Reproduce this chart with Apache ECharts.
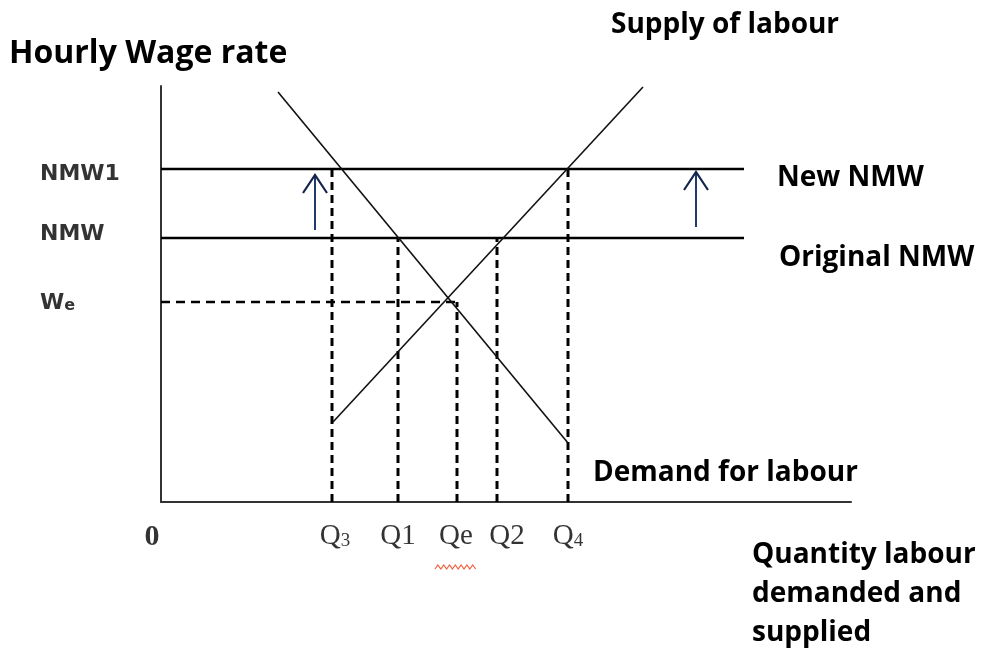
<!DOCTYPE html>
<html>
<head>
<meta charset="utf-8">
<script src="https://cdn.jsdelivr.net/npm/echarts@6/dist/echarts.min.js"></script>
<style>html,body{margin:0;padding:0;background:#fff}#c{width:988px;height:655px}</style>
</head>
<body>
<div id="c"></div>
<script>
// ---- data ----
const qLabels = ['Q3', 'Q1', 'Qe', 'Q2', 'Q4'];
const qValues = [34.2, 47.4, 59.2, 67.2, 81.4];
const qTop = [83.25, 66, 50, 66, 83.25];
const wageLabels = ['NMW1', 'NMW', 'We'];
const wageValues = [83.25, 66, 50];
const demandX = [23.4, 81.4];
const demandY = [102.5, 14.75];
const supplyX = [34.4, 96.4];
const supplyY = [20, 103.75];
const nmwLineEnd = 116.6;
const arrowX = [30.8, 107];
const arrowFrom = [68, 68.75];
const arrowTo = [81.75, 82.5];

const chart = echarts.init(document.getElementById('c'), null, {renderer: 'canvas'});
const series = [];
// demand & supply
series.push({type: 'line', data: demandX.map((x, i) => [x, demandY[i]]), showSymbol: false, lineStyle: {color: '#111', width: 1.6}, z: 3});
series.push({type: 'line', data: supplyX.map((x, i) => [x, supplyY[i]]), showSymbol: false, lineStyle: {color: '#111', width: 1.6}, z: 3});
// NMW lines
[wageValues[0], wageValues[1]].forEach(w => {
  series.push({type: 'line', data: [[0, w], [nmwLineEnd, w]], showSymbol: false, lineStyle: {color: '#000', width: 2.6}, z: 2});
});
// We dashed
series.push({type: 'line', data: [[0, wageValues[2]], [qValues[2], wageValues[2]]], showSymbol: false, lineStyle: {color: '#000', width: 2.6, type: [9, 6]}, z: 2});
// vertical dashed
qValues.forEach((q, i) => {
  series.push({type: 'line', data: [[q, 0], [q, qTop[i]]], showSymbol: false, lineStyle: {color: '#000', width: 3, type: [8, 5]}, z: 2});
});
// arrows
arrowX.forEach((x, i) => {
  series.push({type: 'line', data: [[x, arrowFrom[i]], [x, arrowTo[i]]], showSymbol: false, lineStyle: {color: '#1f3b6e', width: 2}, z: 4});
  series.push({type: 'line', data: [[x - 2.4, arrowTo[i] - 4.5], [x, arrowTo[i]], [x + 2.4, arrowTo[i] - 4.5]], showSymbol: false, lineStyle: {color: '#13244a', width: 2.2, join: 'miter'}, z: 4});
});
// x labels
const qRich = {
  q: {fontFamily: 'Liberation Serif', fontSize: 29, color: '#000'},
  s: {fontFamily: 'Liberation Serif', fontSize: 19, color: '#000', verticalAlign: 'bottom', padding: [0, 0, 0, 0]}
};
const qFmt = {Q3: '{q|Q}{s|3}', Q1: '{q|Q1}', Qe: '{q|Qe}', Q2: '{q|Q2}', Q4: '{q|Q}{s|4}'};
const qOff = {Q3: 3, Q1: 0, Qe: -1, Q2: 10, Q4: 0};
series.push({
  type: 'scatter', symbolSize: 0, silent: true,
  data: qLabels.map((l, i) => ({value: [qValues[i], 0], name: l,
    label: {show: true, position: 'inside', offset: [qOff[l], 34], align: 'center', verticalAlign: 'middle',
      formatter: qFmt[l], rich: qRich}}))
});
// origin label
series.push({
  type: 'scatter', symbolSize: 0, silent: true,
  data: [{value: [0, 0], label: {show: true, position: 'inside', offset: [-9, 35], align: 'center', verticalAlign: 'middle',
    formatter: '0', fontFamily: 'Liberation Serif', fontWeight: 'bold', fontSize: 30, color: '#000'}}]
});
// y labels
const wRich = {
  w: {fontFamily: 'DejaVu Sans', fontWeight: 'bold', fontSize: 22, color: '#000'},
  e: {fontFamily: 'DejaVu Sans', fontWeight: 'bold', fontSize: 16, color: '#000', verticalAlign: 'bottom'}
};
const wFmt = {NMW1: '{w|NMW1}', NMW: '{w|NMW}', We: '{w|W}{e|e}'};
const wOffY = {NMW1: 5, NMW: -4, We: 1};
series.push({
  type: 'scatter', symbolSize: 0, silent: true,
  data: wageLabels.map((l, i) => ({value: [0, wageValues[i]], name: l,
    label: {show: true, position: 'inside', offset: [-121, wOffY[l]], align: 'left', verticalAlign: 'middle',
      formatter: wFmt[l], rich: wRich}}))
});

const tStyle = (t, x, y, size) => ({type: 'text', left: x, top: y, style: {text: t, fontFamily: 'Open Sans', fontWeight: 'bold', fontSize: size, fill: '#000', lineHeight: 39}});

// squiggle under Qe (spell-check mark)
const sq = [];
for (let i = 0; i <= 14; i++) sq.push([435 + i * 2.9, i % 2 ? 565 : 569]);

chart.setOption({
  animation: false,
  backgroundColor: '#fff',
  grid: {left: 161, right: 137, top: 86, bottom: 153},
  xAxis: {type: 'value', min: 0, max: 138, axisLine: {show: true, lineStyle: {color: '#333', width: 2}}, axisTick: {show: false}, axisLabel: {show: false}, splitLine: {show: false}},
  yAxis: {type: 'value', min: 0, max: 104, axisLine: {show: true, lineStyle: {color: '#333', width: 2}}, axisTick: {show: false}, axisLabel: {show: false}, splitLine: {show: false}},
  series: series,
  graphic: [
    tStyle('Hourly Wage rate', 9, 34, 32),
    tStyle('Supply of labour', 611, 6, 28),
    tStyle('New NMW', 777, 159, 28),
    tStyle('Original NMW', 779, 239, 28),
    tStyle('Demand for labour', 593, 454, 28),
    tStyle('Quantity labour\ndemanded and\nsupplied', 752, 536, 28),
    {type: 'polyline', shape: {points: sq}, style: {stroke: '#f0603c', lineWidth: 1.2, fill: null}}
  ]
});
</script>
</body>
</html>
